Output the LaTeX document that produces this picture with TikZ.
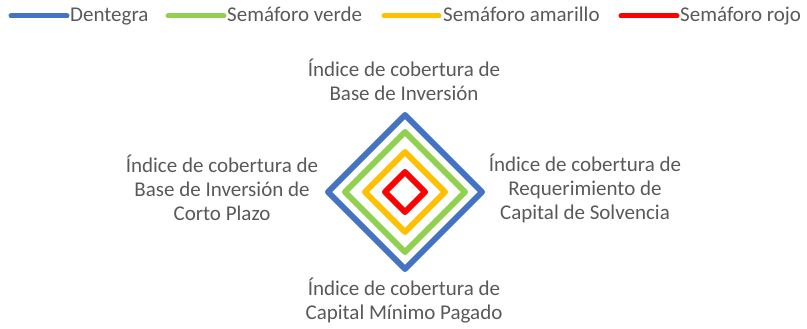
\documentclass[tikz,border=0pt]{standalone}
\usepackage{fontspec}
\setmainfont{Carlito}
\definecolor{txtgray}{HTML}{595959}
\definecolor{dblue}{HTML}{4472C4}
\definecolor{sgreen}{HTML}{92D050}
\definecolor{syellow}{HTML}{FFC000}
\definecolor{sred}{HTML}{FF0000}
\begin{document}
\begin{tikzpicture}[x=1pt, y=-1pt, font=\fontsize{21}{24}\selectfont, text=txtgray,
    legline/.style={line width=5pt, line cap=round},
    leg/.style={anchor=base west, inner sep=0pt},
    ring/.style={line width=6pt, line join=round},
    lbl/.style={align=center, inner sep=0pt}]
    \useasboundingbox (0,0) rectangle (807,329);
    \draw[legline, dblue] (11,16) -- (67,16);
    \node[leg] (dentegra) at (70,22) {Dentegra};
    \draw[legline, sgreen] (168,16) -- (224,16);
    \node[leg] (verde) at (227,22) {Semáforo verde};
    \draw[legline, syellow] (384,16) -- (439,16);
    \node[leg] (amarillo) at (443,22) {Semáforo amarillo};
    \draw[legline, sred] (621,16) -- (677,16);
    \node[leg] (rojo) at (680,22) {Semáforo rojo};
    \draw[ring, dblue] (405,115) -- (482,192) -- (405,269) -- (328,192) -- cycle;
    \draw[ring, sgreen] (405,132) -- (465,192) -- (405,252) -- (345,192) -- cycle;
    \draw[ring, syellow] (405,152) -- (445,192) -- (405,232) -- (365,192) -- cycle;
    \draw[ring, sred] (405,172) -- (425,192) -- (405,212) -- (385,192) -- cycle;
    \node[lbl] (base) at (404,80) {Índice de cobertura de\\Base de Inversión};
    \node[lbl] (rcs) at (585,188) {Índice de cobertura de\\Requerimiento de\\Capital de Solvencia};
    \node[lbl] (bicp) at (222,188) {Índice de cobertura de\\Base de Inversión de\\Corto Plazo};
    \node[lbl] (cmp) at (404,301) {Índice de cobertura de\\Capital Mínimo Pagado};
\end{tikzpicture}
\end{document}
